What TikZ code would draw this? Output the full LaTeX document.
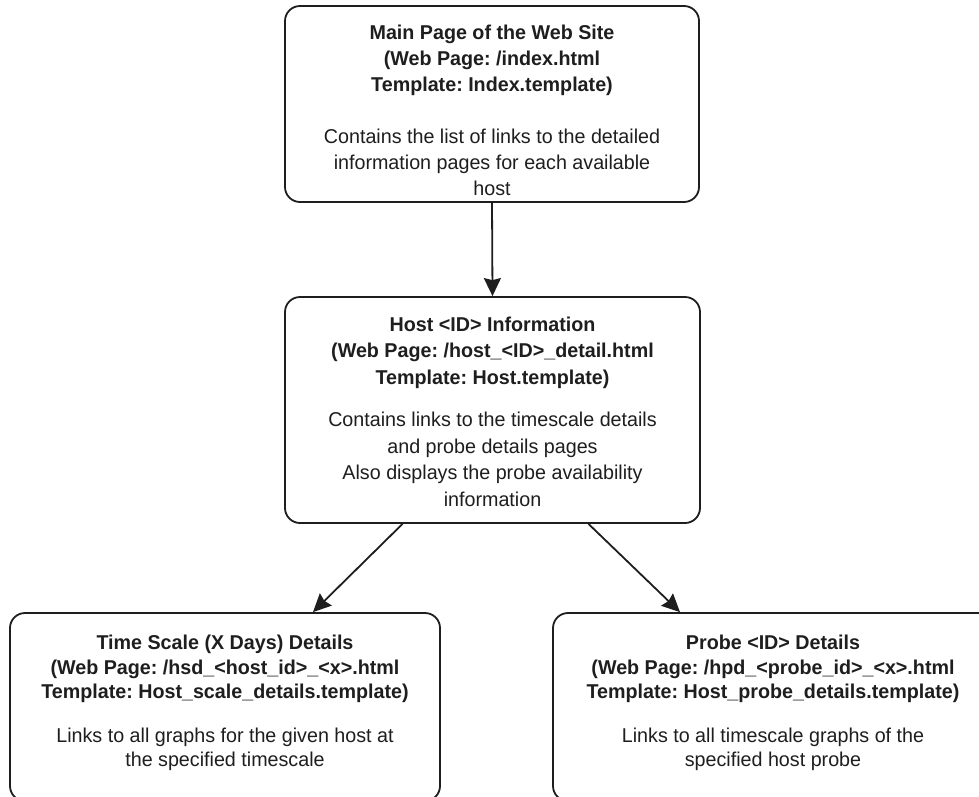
\documentclass[tikz,border=0pt]{standalone}
\usepackage{fontspec}
\setmainfont[FakeStretch=0.985]{Liberation Sans}
\usetikzlibrary{arrows.meta}
\definecolor{ink}{HTML}{1E1E1E}
\tikzset{
  page/.style={draw=ink, line width=1.8pt, rounded corners=15pt, inner sep=0pt},
  caption/.style={align=center, text=ink, inner sep=0pt,
    font=\fontsize{20}{26}\selectfont\frenchspacing},
  link/.style={draw=ink, line width=1.8pt,
    -{Stealth[length=18pt, width=17pt, inset=2pt]}}
}
\begin{document}
\begin{tikzpicture}[x=1pt, y=-1pt]
\clip (0,0) rectangle (979,796);
\fill[white] (0,0) rectangle (979,796);

% page boxes
\node[page, minimum width=414pt, minimum height=196pt] (main) at (492,104) {};
\node[page, minimum width=415pt, minimum height=226pt] (host) at (492.5,410) {};
\node[page, minimum width=430pt, minimum height=188pt] (scale) at (225,707) {};
\node[page, minimum width=440pt, minimum height=188pt] (probe) at (773,707) {};

% page descriptions
\node[caption] (mainText) at (492,110)
  {\textbf{Main Page of the Web Site}\\
   \textbf{(Web Page: /index.html}\\
   \textbf{Template: Index.template)}\\[26pt]
   Contains the list of links to the detailed\\
   information pages for each available\\
   host};

\node[caption, font=\fontsize{20}{26.5}\selectfont\frenchspacing] (hostText) at (492.5,411.5)
  {\textbf{Host <ID> Information}\\
   \textbf{(Web Page: /host\_<ID>\_detail.html}\\
   \textbf{Template: Host.template)}\\[16pt]
   Contains links to the timescale details\\
   and probe details pages\\
   Also displays the probe availability\\
   information};

\node[caption, font=\fontsize{20}{24.5}\selectfont\frenchspacing] (scaleText) at (225,703)
  {\textbf{Time Scale (X Days) Details}\\
   \textbf{(Web Page: /hsd\_<host\_id>\_<x>.html}\\
   \textbf{Template: Host\_scale\_details.template)}\\[19pt]
   Links to all graphs for the given host at\\
   the specified timescale};

\node[caption, font=\fontsize{20}{24.5}\selectfont\frenchspacing] (probeText) at (773,703)
  {\textbf{Probe <ID> Details}\\
   \textbf{(Web Page: /hpd\_<probe\_id>\_<x>.html}\\
   \textbf{Template: Host\_probe\_details.template)}\\[19pt]
   Links to all timescale graphs of the\\
   specified host probe};

% navigation links
\draw[link] (main.south) -- (host.north);
\draw[link] ([xshift=-90pt]host.south) -- ([xshift=88pt]scale.north);
\draw[link] ([xshift=96pt]host.south) -- ([xshift=-93pt]probe.north);
\end{tikzpicture}
\end{document}
